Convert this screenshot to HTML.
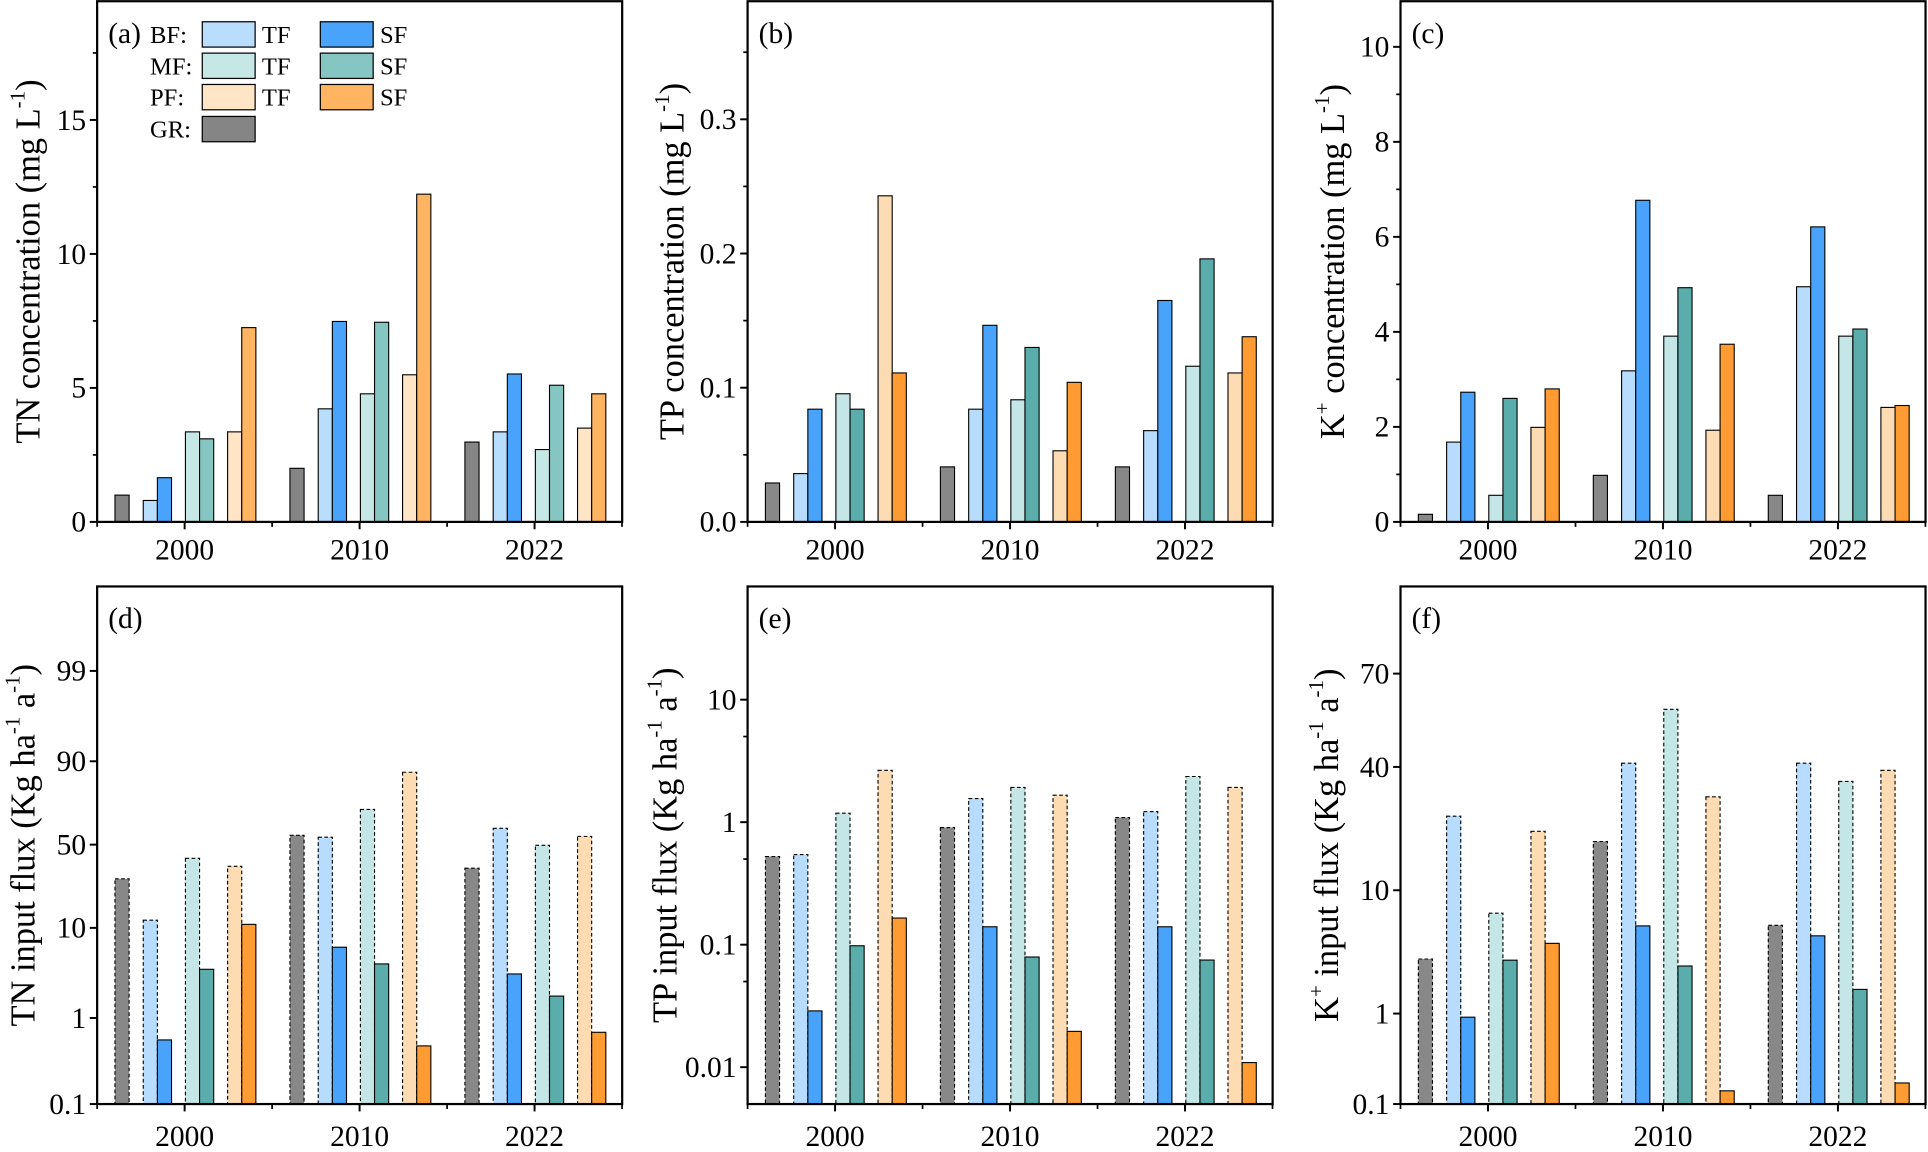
<!DOCTYPE html>
<html><head><meta charset="utf-8"><style>
html,body{margin:0;padding:0;background:#fff;}
svg{display:block;font-family:"Liberation Serif",serif;}
</style></head><body>
<svg id="fig" xmlns="http://www.w3.org/2000/svg" width="1928" height="1152" viewBox="0 0 1568 937" preserveAspectRatio="none"></svg>
<script>
const years=['2000','2010','2022'];
const seriesNames=['GR','BF-TF','BF-SF','MF-TF','MF-SF','PF-TF','PF-SF'];
// (a) TN concentration
const aGR=[1.0,2.0,2.98], aBFtf=[0.8,4.22,3.36], aBFsf=[1.65,7.48,5.52], aMFtf=[3.36,4.78,2.7], aMFsf=[3.1,7.45,5.1], aPFtf=[3.36,5.49,3.5], aPFsf=[7.25,12.23,4.78];
// (b) TP concentration
const bGR=[0.029,0.041,0.041], bBFtf=[0.036,0.084,0.068], bBFsf=[0.084,0.1465,0.165], bMFtf=[0.0955,0.091,0.116], bMFsf=[0.084,0.130,0.196], bPFtf=[0.243,0.053,0.111], bPFsf=[0.111,0.104,0.138];
// (c) K+ concentration
const cGR=[0.16,0.98,0.56], cBFtf=[1.68,3.18,4.95], cBFsf=[2.73,6.77,6.21], cMFtf=[0.56,3.91,3.91], cMFsf=[2.6,4.93,4.06], cPFtf=[1.99,1.93,2.41], cPFsf=[2.8,3.74,2.45];
// (d) TN input flux
const dGR=[25.8,53.4,31.7], dBFtf=[11.6,52.7,56.1], dBFsf=[0.556,6.1,3.08], dMFtf=[38.4,64.1,49.4], dMFsf=[3.47,3.98,1.75], dPFtf=[32.9,83.3,53.0], dPFsf=[10.7,0.474,0.682];
// (e) TP input flux
const eGR=[0.524,0.904,1.09], eBFtf=[0.544,1.56,1.22], eBFsf=[0.0288,0.140,0.140], eMFtf=[1.185,1.92,2.36], eMFsf=[0.098,0.0793,0.0749], ePFtf=[2.65,1.66,1.92], ePFsf=[0.165,0.0196,0.0109];
// (f) K+ input flux
const fGR=[2.77,17.3,5.2], fBFtf=[23.0,40.9,40.9], fBFsf=[0.912,5.14,4.27], fMFtf=[6.51,56.5,34.0], fMFsf=[2.71,2.43,1.57], fPFtf=[19.4,28.6,38.5], fPFsf=[3.71,0.140,0.171];
// tick labels
const aTicks=[0,5,10,15], bTicks=[0,0.1,0.2,0.3], cTicks=[0,2,4,6,8,10];
const dTicks=[0.1,1,10,50,90,99], eTicks=[0.01,0.1,1,10], fTicks=[0.1,1,10,40,70];
const bTickLabels=['0.0','0.1','0.2','0.3'];

const NS='http://www.w3.org/2000/svg';
const svg=document.getElementById('fig');
function mk(tag,attrs,parent){const e=document.createElementNS(NS,tag);for(const k in attrs)e.setAttribute(k,attrs[k]);(parent||svg).appendChild(e);return e;}

const light={GR:'#858585','BF-TF':'#b9ddfd','BF-SF':'#4aa3fb','MF-TF':'#c5e7e6','MF-SF':'#85c5c2','PF-TF':'#fee5c6','PF-SF':'#ffb462'};
const dark={GR:'#888888','BF-TF':'#b7dcfd','BF-SF':'#4aa3fb','MF-TF':'#c4e6e6','MF-SF':'#5aadab','PF-TF':'#fedcb3','PF-SF':'#fe9c33'};
const offsets=[14.5,37.5,49,71.8,83.3,106.1,117.6];
const BW=11.5, GW=142.3, PW=427;

function linAxis(min,max,yb,yt){return v=>yb-(v-min)/(max-min)*(yb-yt);}
function logAxis(min,max,yb,yt){return v=>yb-(Math.log10(v)-Math.log10(min))/(Math.log10(max)-Math.log10(min))*(yb-yt);}
function pieceAxis(vals,ys){return v=>{const L=Math.log10(v);let i=0;while(i<vals.length-2&&L>Math.log10(vals[i+1]))i++;
  const l0=Math.log10(vals[i]),l1=Math.log10(vals[i+1]);return ys[i]+(L-l0)/(l1-l0)*(ys[i+1]-ys[i]);};}

function fmt(v){return String(v);}

const panels=[
 {key:'a',left:79,top:1,bottom:424.5,y:linAxis(0,19.43,424.5,1),ticks:aTicks,labels:aTicks.map(fmt),minor:[2.5,7.5,12.5,17.5],data:[aGR,aBFtf,aBFsf,aMFtf,aMFsf,aPFtf,aPFsf],pal:light,dashed:false,title:[['TN concentration (mg L',0],['-1',1],[')',0]],tx:22,xlab:455},
 {key:'b',left:608,top:1,bottom:424.5,y:linAxis(0,0.388,424.5,1),ticks:bTicks,labels:bTickLabels,minor:[0.05,0.15,0.25,0.35],data:[bGR,bBFtf,bBFsf,bMFtf,bMFsf,bPFtf,bPFsf],pal:dark,dashed:false,title:[['TP concentration (mg L',0],['-1',1],[')',0]],tx:546,xlab:455},
 {key:'c',left:1139,top:1,bottom:424.5,y:linAxis(0,10.96,424.5,1),ticks:cTicks,labels:cTicks.map(fmt),minor:[1,3,5,7,9],data:[cGR,cBFtf,cBFsf,cMFtf,cMFsf,cPFtf,cPFsf],pal:dark,dashed:false,title:[['K',0],['+',1],[' concentration (mg L',0],['-1',1],[')',0]],tx:1083,xlab:455},
 {key:'d',left:79,top:477,bottom:898,y:pieceAxis(dTicks,[898,828,754.7,687,619.2,545.7]),ticks:dTicks,labels:dTicks.map(fmt),minor:[],data:[dGR,dBFtf,dBFsf,dMFtf,dMFsf,dPFtf,dPFsf],pal:dark,dashed:true,title:[['TN input flux (Kg ha',0],['-1',1],[' a',0],['-1',1],[')',0]],tx:18,xlab:932},
 {key:'e',left:608,top:477,bottom:898,y:logAxis(0.005,84,898,477),ticks:eTicks,labels:eTicks.map(fmt),minor:[0.05,0.5,5],data:[eGR,eBFtf,eBFsf,eMFtf,eMFsf,ePFtf,ePFsf],pal:dark,dashed:true,title:[['TP input flux (Kg ha',0],['-1',1],[' a',0],['-1',1],[')',0]],tx:540,xlab:932},
 {key:'f',left:1139,top:477,bottom:898,y:pieceAxis(fTicks,[898,824.4,724.1,623.8,547.9]),ticks:fTicks,labels:fTicks.map(fmt),minor:[],data:[fGR,fBFtf,fBFsf,fMFtf,fMFsf,fPFtf,fPFsf],pal:dark,dashed:true,title:[['K',0],['+',1],[' input flux (Kg ha',0],['-1',1],[' a',0],['-1',1],[')',0]],tx:1078,xlab:932}
];

panels.forEach(p=>{
  const g=mk('g',{});
  
  
  p.data.forEach((arr,si)=>{
    const name=seriesNames[si];
    arr.forEach((v,yi)=>{
      const x=p.left+yi*GW+offsets[si];
      const yv=Math.max(p.top,p.y(v));
      const isTF=name.endsWith('TF')||name==='GR';
      const r=mk('rect',{x:x,y:yv,width:BW,height:p.bottom-yv,fill:p.pal[name],stroke:'#000','stroke-width':0.9},g);
      if(p.dashed&&isTF)r.setAttribute('stroke-dasharray','3,2');
      
      
    });
  });
  const fr=mk('rect',{x:p.left,y:p.top,width:PW,height:p.bottom-p.top,fill:'none',stroke:'#000','stroke-width':1.8},g);
  
  
  p.ticks.forEach((t,i)=>{
    const yy=p.y(t);
    mk('line',{x1:p.left-6,x2:p.left,y1:yy,y2:yy,stroke:'#000','stroke-width':1.6},g);
    const tl=mk('text',{x:p.left-9,y:yy+8,'text-anchor':'end','font-size':24},g);
    tl.textContent=p.labels[i];
    
    
  });
  p.minor.forEach(t=>{const yy=p.y(t);mk('line',{x1:p.left-3.5,x2:p.left,y1:yy,y2:yy,stroke:'#000','stroke-width':1.4},g);});
  years.forEach((yr,i)=>{
    const cx=p.left+GW*i+GW/2;
    mk('line',{x1:cx,x2:cx,y1:p.bottom,y2:p.bottom+6,stroke:'#000','stroke-width':1.6},g);
    const xl=mk('text',{x:cx,y:p.xlab,'text-anchor':'middle','font-size':24},g);
    xl.textContent=yr;
    
    
  });
  for(let i=0;i<=3;i++){const bx=p.left+GW*i;mk('line',{x1:bx,x2:bx,y1:p.bottom,y2:p.bottom+4,stroke:'#000','stroke-width':1.4},g);}
  const pl=mk('text',{x:p.left+9,y:p.top+34,'font-size':24},g);
  pl.textContent='('+p.key+')';
  
  
  const cy=(p.top+p.bottom)/2;
  const tt=mk('text',{x:0,y:0,'text-anchor':'middle','font-size':28,transform:'translate('+(p.tx+10)+','+cy+') rotate(-90)'},g);
  
  
  let prevSup=false;
  p.title.forEach(([s,sup])=>{
    const ts=mk('tspan',{},tt);
    if(sup){ts.setAttribute('font-size','17');ts.setAttribute('dy','-12');}
    else{ts.setAttribute('dy',prevSup?'12':'0');}
    prevSup=!!sup;
    ts.textContent=s;
  });
});

const legend=mk('g',{});


const legRows=[['BF:','BF-TF','BF-SF',28],['MF:','MF-TF','MF-SF',53.5],['PF:','PF-TF','PF-SF',79],['GR:','GR',null,105]];
legRows.forEach(([lab,tf,sf,cy])=>{
  const t=mk('text',{x:122,y:cy+7,'font-size':20},legend);
  t.textContent=lab;
  
  
  const r1=mk('rect',{x:164.5,y:cy-10.3,width:43,height:20.6,fill:light[tf],stroke:'#000','stroke-width':1},legend);
  
  
  if(sf){
    const t1=mk('text',{x:213,y:cy+7,'font-size':20},legend);t1.textContent='TF';
    
    
    const r2=mk('rect',{x:260.5,y:cy-10.3,width:43,height:20.6,fill:light[sf],stroke:'#000','stroke-width':1},legend);
    
    
    const t2=mk('text',{x:309,y:cy+7,'font-size':20},legend);t2.textContent='SF';
    
    
  }
});
</script>
</body></html>
